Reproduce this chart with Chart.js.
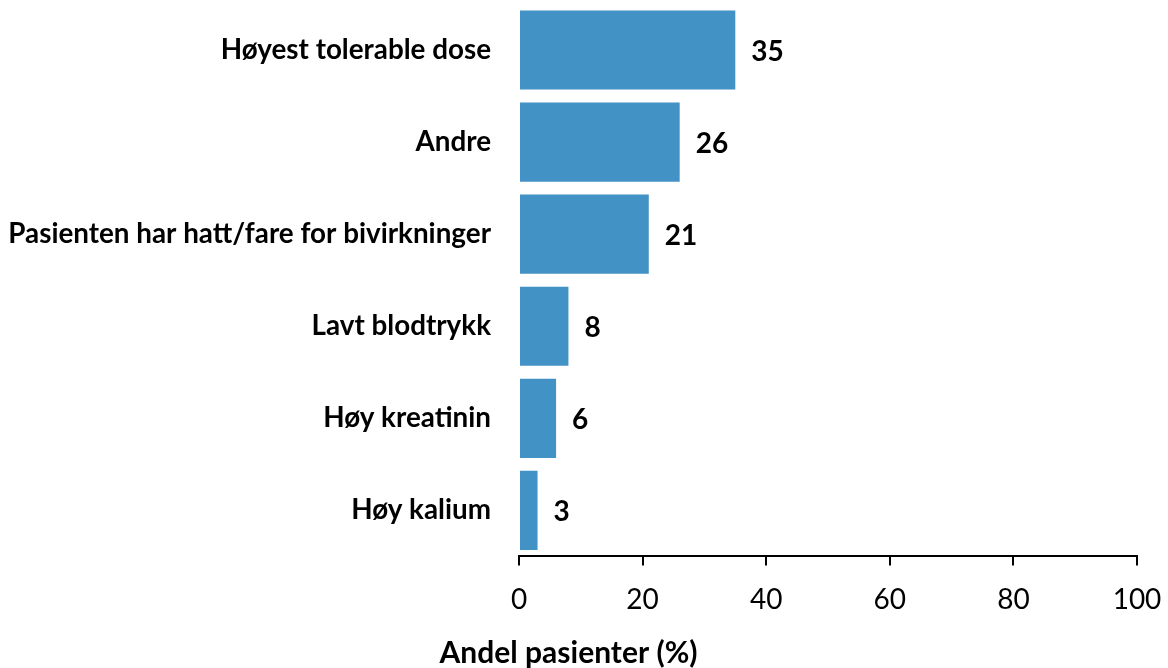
<!DOCTYPE html>
<html>
<head>
<meta charset="utf-8">
<script src="https://cdn.jsdelivr.net/npm/chart.js@4.4.0/dist/chart.umd.min.js"></script>
<style>
  html, body { margin: 0; padding: 0; background: #fff; }
  #wrap { width: 1168px; height: 668px; }
  canvas { display: block; }
</style>
</head>
<body>
<div id="wrap"><canvas id="reasonChart" width="1168" height="668"></canvas></div>
<script>
var categories = ['Høyest tolerable dose', 'Andre', 'Pasienten har hatt/fare for bivirkninger', 'Lavt blodtrykk', 'Høy kreatinin', 'Høy kalium'];
var shares = [35, 26, 21, 8, 6, 3];
var xTicks = [0, 20, 40, 60, 80, 100];

var FONT = 'Lato, "Open Sans", sans-serif';

// writes the value to the right of each bar
var valueLabels = {
    id: 'valueLabels',
    afterDatasetsDraw: function (chart) {
        var ctx = chart.ctx;
        var meta = chart.getDatasetMeta(0);
        ctx.save();
        ctx.font = 'bold 28px ' + FONT;
        ctx.fillStyle = '#000';
        ctx.textAlign = 'left';
        ctx.textBaseline = 'middle';
        meta.data.forEach(function (bar, i) {
            ctx.fillText(String(shares[i]), bar.x + 16, bar.y + 2);
        });
        ctx.restore();
    }
};

document.addEventListener('DOMContentLoaded', function () {
    var ctx = document.getElementById('reasonChart').getContext('2d');
    var reasonChart = new Chart(ctx, {
        type: 'bar',
        data: {
            labels: categories,
            datasets: [{
                label: 'Andel pasienter',
                data: shares,
                backgroundColor: 'rgb(66, 146, 198)',
                borderWidth: 0,
                categoryPercentage: 1,
                barPercentage: 0.86
            }]
        },
        options: {
            indexAxis: 'y',
            responsive: false,
            animation: false,
            layout: { padding: { top: 4, right: 31, left: 0, bottom: 0 } },
            plugins: {
                legend: { display: false },
                tooltip: { enabled: false },
                title: {
                    display: true,
                    position: 'bottom',
                    text: 'Andel pasienter (%)',
                    color: '#000',
                    font: { family: FONT, size: 30, weight: 'bold', lineHeight: 1 },
                    padding: { top: 3, bottom: 0 }
                }
            },
            scales: {
                x: {
                    min: 0,
                    max: 100,
                    afterBuildTicks: function (scale) {
                        scale.ticks = xTicks.map(function (v) { return { value: v }; });
                    },
                    afterFit: function (scale) {
                        // let the end labels overhang the plot area
                        scale.paddingLeft = 0;
                        scale.paddingRight = 0;
                    },
                    grid: {
                        display: true,
                        drawOnChartArea: false,
                        drawTicks: true,
                        tickLength: 9,
                        color: '#000',
                        lineWidth: 2
                    },
                    border: { display: true, color: '#000', width: 2 },
                    ticks: {
                        color: '#000',
                        padding: 18,
                        font: { family: FONT, size: 28 }
                    }
                },
                y: {
                    afterFit: function (scale) {
                        // fixed label column, and no extra vertical room for the labels
                        scale.width = 519;
                        scale.paddingTop = 0;
                        scale.paddingBottom = 0;
                    },
                    grid: { display: false },
                    border: { display: false },
                    ticks: {
                        color: '#000',
                        padding: 20,
                        font: { family: FONT, size: 27.8, weight: 'bold' }
                    }
                }
            }
        },
        plugins: [valueLabels]
    });
});
</script>
</body>
</html>
